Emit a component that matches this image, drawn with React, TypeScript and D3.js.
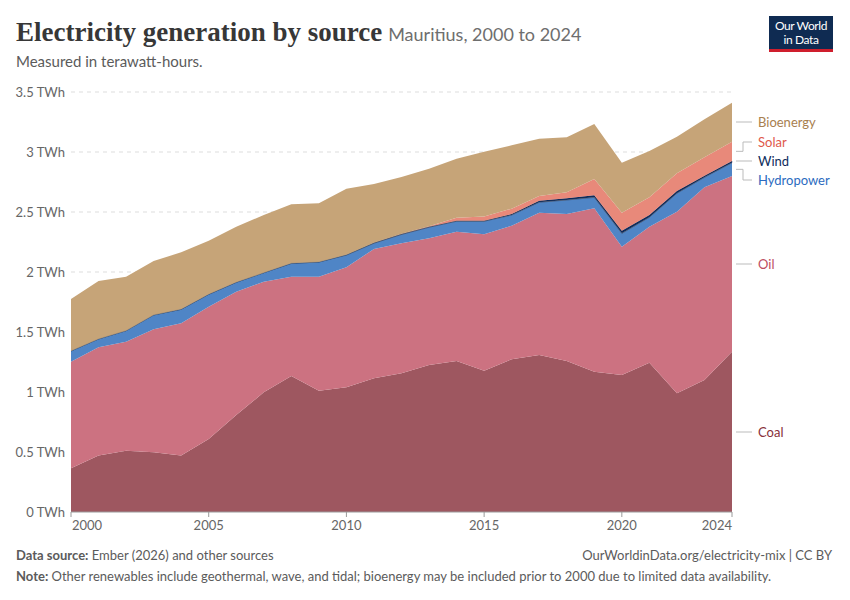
import * as d3 from 'd3'

const years = d3.range(2000, 2025)
const coal = [0.364, 0.47, 0.511, 0.497, 0.47, 0.608, 0.808, 0.997, 1.133, 1.011, 1.039, 1.114, 1.156, 1.225, 1.258, 1.178, 1.272, 1.308, 1.258, 1.169, 1.142, 1.244, 0.989, 1.1, 1.336]
const oil = [0.889, 0.902, 0.908, 1.025, 1.102, 1.103, 1.028, 0.922, 0.828, 0.95, 1.0, 1.078, 1.083, 1.056, 1.078, 1.136, 1.114, 1.186, 1.225, 1.362, 1.069, 1.134, 1.514, 1.606, 1.464]
const hydro = [0.089, 0.07, 0.092, 0.12, 0.117, 0.103, 0.078, 0.075, 0.111, 0.122, 0.102, 0.048, 0.074, 0.092, 0.087, 0.109, 0.089, 0.087, 0.117, 0.091, 0.111, 0.078, 0.153, 0.083, 0.111]
const wind = [0, 0, 0, 0, 0, 0, 0, 0, 0, 0, 0.003, 0.004, 0.004, 0.005, 0.005, 0.005, 0.008, 0.013, 0.014, 0.017, 0.022, 0.019, 0.019, 0.014, 0.014]
const solar = [0, 0, 0, 0, 0, 0, 0, 0, 0, 0, 0, 0, 0.002, 0.004, 0.025, 0.035, 0.045, 0.039, 0.05, 0.136, 0.15, 0.147, 0.147, 0.153, 0.161]
const bioenergy = [0.433, 0.483, 0.45, 0.45, 0.475, 0.447, 0.464, 0.481, 0.492, 0.489, 0.55, 0.489, 0.472, 0.478, 0.49, 0.54, 0.528, 0.478, 0.458, 0.458, 0.417, 0.386, 0.306, 0.316, 0.325]

const sources = ['Coal', 'Oil', 'Hydropower', 'Wind', 'Solar', 'Bioenergy']
const seriesValues = [coal, oil, hydro, wind, solar, bioenergy]
const colors = ['#9e5760', '#cc7281', '#4f85c6', '#0e2c5c', '#e8897a', '#c6a478']
const labelColors = ['#883039', '#bd4d61', '#2c6bc0', '#0e2c5c', '#e0584a', '#a8804f']
const yTicks = [0, 0.5, 1, 1.5, 2, 2.5, 3, 3.5]
const xTicks = [2000, 2005, 2010, 2015, 2020, 2024]

const W = 850
const H = 600
const left = 71
const right = 732
const top = 92
const bottom = 512

export default function App() {
  const rows = years.map((y, i) => {
    const r: Record<string, number> = { year: y }
    sources.forEach((s, j) => (r[s] = seriesValues[j][i]))
    return r
  })
  const stacked = d3.stack<Record<string, number>>().keys(sources)(rows)

  const x = d3.scaleLinear().domain([2000, 2024]).range([left, right])
  const y = d3.scaleLinear().domain([0, 3.5]).range([bottom, top])

  const area = d3
    .area<d3.SeriesPoint<Record<string, number>>>()
    .x(d => x(d.data.year))
    .y0(d => y(d[0]))
    .y1(d => y(d[1]))

  // legend label positions (y) and where their leader line meets the stack
  const labelY = [432, 264, 180, 161, 142, 122]
  const last = stacked.map(s => s[s.length - 1])
  const anchorY = last.map(p => y((p[0] + p[1]) / 2))

  return (
    <svg width={W} height={H} style={{ position: 'absolute', left: 0, top: 0 }}>
      <rect width={W} height={H} fill="#fff" />
      <text x={16} y={41} fontFamily="'Liberation Serif', serif" fontWeight={700} fontSize={27} fill="#373737">
        Electricity generation by source
        <tspan fontFamily="Lato, sans-serif" fontWeight={400} fontSize={18} fill="#6e6e6e" dx={6}>
          Mauritius, 2000 to 2024
        </tspan>
      </text>
      <text x={16} y={67} fontFamily="Lato, sans-serif" fontSize={15} fill="#5b5b5b">
        Measured in terawatt-hours.
      </text>

      <rect x={769} y={16} width={64} height={34} fill="#0f2b52" />
      <rect x={769} y={49} width={64} height={3} fill="#cf1e2d" />
      <text x={801} y={30} textAnchor="middle" fontFamily="Lato, sans-serif" fontSize={12} fill="#fff" letterSpacing={-0.4}>
        Our World
      </text>
      <text x={801} y={44} textAnchor="middle" fontFamily="Lato, sans-serif" fontSize={12} fill="#fff" letterSpacing={-0.4}>
        in Data
      </text>

      {yTicks.map(t => (
        <g key={t}>
          {t > 0 && (
            <line x1={left} x2={right} y1={y(t)} y2={y(t)} stroke="#dddddd" strokeDasharray="4,4" />
          )}
          <text x={65} y={y(t) + 4.5} textAnchor="end" fontFamily="Lato, sans-serif" fontSize={13} fill="#666">
            {t} TWh
          </text>
        </g>
      ))}

      {stacked.map((s, i) => (
        <path key={s.key} d={area(s) ?? ''} fill={colors[i]} stroke={i === 3 ? colors[i] : 'none'} strokeWidth={0.4} />
      ))}
      <path
        d={d3.line<d3.SeriesPoint<Record<string, number>>>().x(d => x(d.data.year)).y(d => y(d[1]))(stacked[2]) ?? ''}
        fill="none"
        stroke="#6b6b6b"
        strokeOpacity={0.5}
        strokeWidth={0.6}
      />

      <line x1={left} x2={right} y1={bottom} y2={bottom} stroke="#9a9a9a" />
      {xTicks.map(t => (
        <g key={t}>
          <line x1={x(t)} x2={x(t)} y1={bottom} y2={bottom + 5} stroke="#9a9a9a" />
          <text
            x={t === 2000 ? x(t) + 1 : x(t)}
            y={bottom + 18}
            textAnchor={t === 2000 ? 'start' : t === 2024 ? 'end' : 'middle'}
            fontFamily="Lato, sans-serif"
            fontSize={13}
            fill="#666"
          >
            {t}
          </text>
        </g>
      ))}

      {sources.map((s, i) => {
        const ly = labelY[i]
        const ay = anchorY[i]
        const straight = Math.abs(ly - ay) < 2
        return (
          <g key={s}>
            <path
              d={straight ? `M736,${ly}H752` : `M736,${ay}H743V${ly}H752`}
              fill="none"
              stroke="#bbbbbb"
              strokeWidth={1}
            />
            <text x={758} y={ly + 4.5} fontFamily="Lato, sans-serif" fontSize={13} fill={labelColors[i]}>
              {s}
            </text>
          </g>
        )
      })}

      <text x={16} y={560} fontFamily="Lato, sans-serif" fontSize={13} fill="#5b5b5b">
        <tspan fontWeight={700}>Data source:</tspan> Ember (2026) and other sources
      </text>
      <text x={832} y={560} textAnchor="end" fontFamily="Lato, sans-serif" fontSize={13} fill="#5b5b5b">
        OurWorldinData.org/electricity-mix | CC BY
      </text>
      <text x={16} y={581} fontFamily="Lato, sans-serif" fontSize={13} fill="#5b5b5b">
        <tspan fontWeight={700}>Note:</tspan> Other renewables include geothermal, wave, and tidal; bioenergy may be included prior to 2000 due to limited data availability.
      </text>
    </svg>
  )
}
